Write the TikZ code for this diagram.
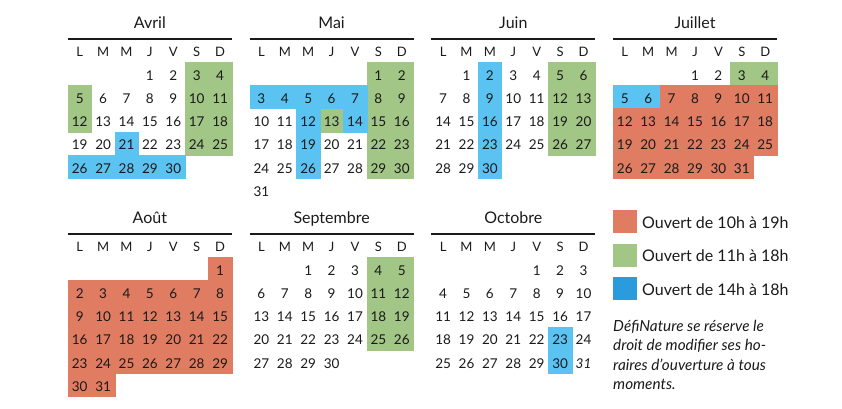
\documentclass[tikz,border=0pt]{standalone}
\usepackage{fontspec}
\setmainfont{Lato}
\definecolor{orng}{HTML}{E07C62}
\definecolor{grn}{HTML}{A2C686}
\definecolor{blu}{HTML}{5BC3F1}
\definecolor{blud}{HTML}{2A9BDC}
\definecolor{ink}{HTML}{1A1A1A}
\def\cw{23.4}
\def\rh{23.25}
\tikzset{
 daynum/.style={font=\fontsize{13.5}{16}\selectfont, text=ink, inner sep=0pt, anchor=base},
 dayhead/.style={font=\fontsize{13}{16}\selectfont, text=ink, inner sep=0pt, anchor=base},
 monthtitle/.style={font=\fontsize{16}{19}\selectfont, text=ink, inner sep=0pt, anchor=base},
 monthrule/.style={line width=2pt, draw=ink},
 legendbox/.style={inner sep=0pt, minimum width=24pt, minimum height=23pt, anchor=north west},
 legendtext/.style={font=\fontsize{16}{19}\selectfont, text=ink, anchor=base west, inner sep=0pt},
 notetext/.style={font=\fontsize{15.3}{19}\selectfont\itshape, text=ink, anchor=base west, inner sep=0pt},
}
\newcommand\fillcells[5]{%
 \foreach \dd in {#5} {
   \pgfmathtruncatemacro\idx{\dd-1+#3}
   \pgfmathtruncatemacro\cellc{mod(\idx,7)}
   \pgfmathtruncatemacro\cellr{div(\idx,7)}
   \fill[#4, draw=#4, line width=0.3pt] ({#1+\cellc*\cw}, {#2+\cellr*\rh}) rectangle ++(\cw, \rh);
 }%
}
\newcommand\calmonth[6]{%
 \node[monthtitle] (#1-title) at ({#3+3.5*\cw}, {#4-33.7}) {#2};
 \coordinate (#1-rl) at (#3, {#4-23});
 \coordinate (#1-rr) at ({#3+7*\cw}, {#4-23});
 \draw[monthrule] (#1-rl) -- (#1-rr);
 \foreach \hd [count=\i from 0] in {L,M,M,J,V,S,D}
   \node[dayhead] (#1-h\i) at ({#3+(\i+0.5)*\cw}, {#4-6}) {\hd};
 \foreach \dd in {1,...,#6} {
   \pgfmathtruncatemacro\idx{\dd-1+#5}
   \pgfmathtruncatemacro\cellc{mod(\idx,7)}
   \pgfmathtruncatemacro\cellr{div(\idx,7)}
   \node[daynum] (#1-d\dd) at ({#3+(\cellc+0.5)*\cw}, {#4+\cellr*\rh+18}) {\dd};
 }%
}
\begin{document}
\begin{tikzpicture}[x=1pt,y=-1pt]
\useasboundingbox (0,0) rectangle (842,408);
% Avril
\fillcells{68}{62}{3}{grn}{3,4,10,11,17,18,24,25,5,12}
\fillcells{68}{62}{3}{blu}{21,26,27,28,29,30}
\calmonth{avr}{Avril}{68}{62}{3}{30}
% Mai
\fillcells{249.7}{62}{5}{grn}{1,2,8,9,15,16,22,23,29,30,13}
\fillcells{249.7}{62}{5}{blu}{3,4,5,6,7,12,14,19,26}
\calmonth{mai}{Mai}{249.7}{62}{5}{31}
% Juin
\fillcells{431.4}{62}{1}{blu}{2,9,16,23,30}
\fillcells{431.4}{62}{1}{grn}{5,6,12,13,19,20,26,27}
\calmonth{jun}{Juin}{431.4}{62}{1}{30}
% Juillet
\fillcells{613.1}{62}{3}{grn}{3,4}
\fillcells{613.1}{62}{3}{blu}{5,6}
\fillcells{613.1}{62}{3}{orng}{7,...,31}
\calmonth{jul}{Juillet}{613.1}{62}{3}{31}
% Aout
\fillcells{68}{257}{6}{orng}{1,...,31}
\calmonth{aou}{Août}{68}{257}{6}{31}
% Septembre
\fillcells{249.7}{257}{2}{grn}{4,5,11,12,18,19,25,26}
\calmonth{sep}{Septembre}{249.7}{257}{2}{30}
% Octobre
\fillcells{431.4}{257}{4}{blu}{23,30}
\calmonth{oct}{Octobre}{431.4}{257}{4}{30}
\node[daynum, font=\fontsize{13.5}{16}\selectfont\itshape] (oct-d31) at ({431.4+6.5*\cw}, {257+4*\rh+18}) {31};
% Legend
\node[legendbox, fill=orng] (leg1) at (613,210) {};
\node[legendtext] (leg1t) at (642,228.3) {Ouvert de 10h à 19h};
\node[legendbox, fill=grn] (leg2) at (613,243.5) {};
\node[legendtext] (leg2t) at (642,261.7) {Ouvert de 11h à 18h};
\node[legendbox, fill=blud] (leg3) at (613,277) {};
\node[legendtext] (leg3t) at (642,295) {Ouvert de 14h à 18h};
% Note
\node[notetext] (note1) at (613,331) {DéfiNature se réserve le};
\node[notetext] (note2) at (613,350.5) {droit de modifier ses ho-};
\node[notetext] (note3) at (613,370) {raires d’ouverture à tous};
\node[notetext] (note4) at (613,389) {moments.};
\end{tikzpicture}
\end{document}
